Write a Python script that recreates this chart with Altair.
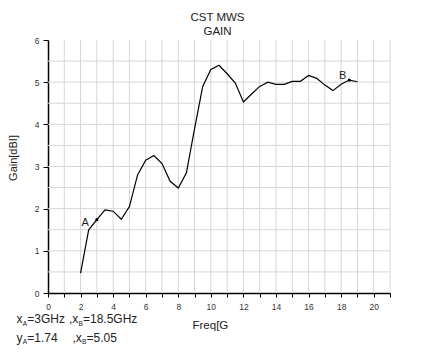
import altair as alt
import pandas as pd

# ---- data ----
freq = [2.0, 2.5, 3.0, 3.5, 4.0, 4.5, 5.0, 5.5, 6.0, 6.5, 7.0, 7.5, 8.0, 8.5,
        9.0, 9.5, 10.0, 10.5, 11.0, 11.5, 12.0, 12.5, 13.0, 13.5, 14.0, 14.5,
        15.0, 15.5, 16.0, 16.5, 17.0, 17.5, 18.0, 18.5, 19.0]
gain = [0.47, 1.50, 1.74, 1.97, 1.94, 1.75, 2.05, 2.80, 3.15, 3.26, 3.07, 2.65,
        2.49, 2.85, 3.90, 4.90, 5.30, 5.40, 5.20, 4.98, 4.53, 4.72, 4.90, 5.00,
        4.95, 4.95, 5.02, 5.02, 5.16, 5.09, 4.93, 4.80, 4.95, 5.05, 5.01]
marker_label = ["A", "B"]
marker_freq = [3.0, 18.5]
marker_gain = [1.74, 5.05]
x_ticks = list(range(0, 22))
y_ticks = [i * 0.5 for i in range(0, 13)]
title_lines = ["CST MWS", "GAIN"]
x_title = "Freq[G"
y_title = "Gain[dBI]"

FONT = "Liberation Sans"
W, H = 342, 253
GRID = "#d6d6d6"

df = pd.DataFrame({"freq": freq, "gain": gain})
mk = pd.DataFrame({"label": marker_label, "freq": marker_freq, "gain": marker_gain})
gx = pd.DataFrame({"freq": [v for v in x_ticks if v > 0]})
gy = pd.DataFrame({"gain": [v for v in y_ticks if 0 < v < 6]})

xscale = alt.Scale(domain=[0, 21], nice=False, zero=False)
yscale = alt.Scale(domain=[0, 6], nice=False)

xaxis = alt.Axis(values=x_ticks, labelExpr="datum.value % 2 == 0 ? datum.label : ''",
                 grid=False,
                 domainColor="black", domainWidth=1.5, tickColor="black", tickSize=4,
                 labelFontSize=8.5, labelColor="#333", labelFont=FONT, labelPadding=5,
                 labelOverlap=False, labelFlush=False,
                 title=x_title, titleFont=FONT, titleFontSize=11.5, titleFontWeight="normal",
                 titleColor="#222", titleX=144, titleY=35, titleAlign="left",
                 titleBaseline="alphabetic")
yaxis = alt.Axis(values=y_ticks, format="d",
                 labelExpr="datum.value % 1 == 0 ? format(datum.value, 'd') : ''",
                 grid=False,
                 domainColor="black", domainWidth=1.5, tickColor="black", tickSize=5,
                 labelFontSize=8.5, labelColor="#333", labelFont=FONT, labelPadding=4,
                 labelOverlap=False, labelFlush=False,
                 title=y_title, titleFont=FONT, titleFontSize=11, titleFontWeight="normal",
                 titleColor="#222", titleX=-32, titleY=117.5, titleAngle=270,
                 titleAlign="center", titleBaseline="alphabetic")

X = alt.X("freq:Q", scale=xscale, axis=xaxis)
Y = alt.Y("gain:Q", scale=yscale, axis=yaxis)

vgrid = alt.Chart(gx).mark_rule(color=GRID, strokeWidth=1).encode(
    x=X, y=alt.value(0), y2=alt.value(H))
hgrid = alt.Chart(gy).mark_rule(color=GRID, strokeWidth=1).encode(
    y=Y, x=alt.value(0), x2=alt.value(W))

line = alt.Chart(df).mark_line(color="black", strokeWidth=1.2).encode(x=X, y=Y)

pts = alt.Chart(mk).mark_point(filled=True, color="black", size=10, opacity=1).encode(x=X, y=Y)

lab_a = alt.Chart(mk).transform_filter("datum.label == 'A'").mark_text(
    align="right", baseline="alphabetic", dx=-8, dy=6, fontSize=11, font=FONT, color="#222"
).encode(x=X, y=Y, text="label:N")

lab_b = alt.Chart(mk).transform_filter("datum.label == 'B'").mark_text(
    align="right", baseline="alphabetic", dx=-3, dy=-1, fontSize=11, font=FONT, color="#222"
).encode(x=X, y=Y, text="label:N")


def txt(s, x, y, size, align="left"):
    return alt.Chart(pd.DataFrame({"t": [s]})).mark_text(
        align=align, baseline="alphabetic", fontSize=size, font=FONT, color="#222"
    ).encode(x=alt.value(x), y=alt.value(y), text="t:N")


notes = [
    txt(title_lines[0], 169.5, -19.3, 11.5, "center"),
    txt(title_lines[1], 169.5, -4.7, 11.5, "center"),
    # line 1: xA=3GHz ,xB=18.5GHz
    txt("x", -31.5, 283, 12), txt("A", -25.3, 286, 6.5), txt("=3GHz", -20.8, 283, 12),
    txt(",x", 21, 283, 12), txt("B", 30.6, 286, 6.5), txt("=18.5GHz", 35, 283, 12),
    # line 2: yA=1.74 ,xB=5.05
    txt("y", -31.5, 301.5, 12), txt("A", -25.3, 304, 6.5), txt("=1.74", -20.8, 301.5, 12),
    txt(",x", 24.5, 301.5, 12), txt("B", 34.1, 304, 6.5), txt("=5.05", 38.5, 301.5, 12),
]

chart = alt.layer(vgrid, hgrid, line, pts, lab_a, lab_b, *notes).properties(
    width=W, height=H,
    autosize=alt.AutoSizeParams(type="none"),
    padding={"left": 40, "top": 32, "right": 10, "bottom": 55},
    background="white",
).configure_view(stroke=None)

chart.save("out.html", embed_options={"renderer": "svg", "actions": False})
